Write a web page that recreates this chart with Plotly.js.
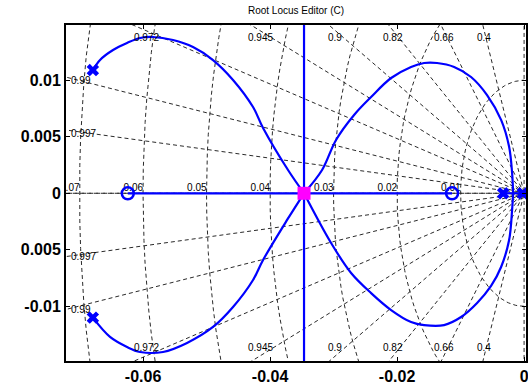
<!DOCTYPE html>
<html><head><meta charset="utf-8">
<script src="https://cdn.plot.ly/plotly-3.0.1.min.js"></script>
<style>html,body{margin:0;padding:0;background:#fff}</style>
</head><body><div id="chart" style="width:528px;height:389px"></div>
<script>
// ---- axes ----
const xTickVals = [-0.06, -0.04, -0.02, 0];
const xTickText = ['-0.06', '-0.04', '-0.02', '0'];
const yTickVals = [-0.01, -0.005, 0, 0.005, 0.01];
const yTickText = ['-0.01', '0.005', '0', '0.005', '0.01'];
const xRange = [-0.07213, 0.0003];
const yRange = [-0.01484, 0.01489];

// ---- s-plane grid values ----
const dampingRatios = [0.4, 0.66, 0.82, 0.9, 0.945, 0.972, 0.99, 0.997];
const dampingLabels = ['0.4', '0.66', '0.82', '0.9', '0.945', '0.972', '0.99', '0.997'];
const naturalFreqs = [0.01, 0.02, 0.03, 0.04, 0.05, 0.06, 0.07];
const freqLabels = ['0.01', '0.02', '0.03', '0.04', '0.05', '0.06', '0.07'];

// ---- open-loop poles / zeros, closed-loop pole ----
const poleRe = [-0.0679, -0.0679, -0.0033, -0.0002];
const poleIm = [0.0109, -0.0110, 0, 0];
const zeroRe = [-0.0624, -0.01134];
const zeroIm = [0, 0];
const clPoleRe = [-0.03465];
const clPoleIm = [0];

// ---- locus branches ----
const upperLeftRe = [-0.06787, -0.06677, -0.06472, -0.06252, -0.06047, -0.05843, -0.05528, -0.05213, -0.04898, -0.04583, -0.04268, -0.04110, -0.03717, -0.03465];
const upperLeftIm = [0.01091, 0.01180, 0.01268, 0.01330, 0.01374, 0.01383, 0.01356, 0.01294, 0.01179, 0.01003, 0.00763, 0.00578, 0.00206, 0];
const lowerLeftRe = [-0.06787, -0.06520, -0.06252, -0.06047, -0.05685, -0.05307, -0.04898, -0.04583, -0.04268, -0.04110, -0.03732, -0.03465];
const lowerLeftIm = [-0.01103, -0.01271, -0.01360, -0.01404, -0.01404, -0.01324, -0.01183, -0.01006, -0.00767, -0.00590, -0.00236, 0];
const upperRightRe = [-0.03465, -0.03181, -0.02961, -0.02677, -0.02409, -0.02094, -0.01780, -0.01575, -0.01370, -0.01102, -0.00835, -0.00583, -0.00362, -0.00236, -0.00189, -0.00173];
const upperRightIm = [0, 0.00206, 0.00472, 0.00693, 0.00852, 0.01020, 0.01118, 0.01153, 0.01153, 0.01118, 0.01029, 0.00869, 0.00649, 0.00411, 0.00180, 0];
const lowerRightRe = [-0.03465, -0.03039, -0.02724, -0.02409, -0.02094, -0.01780, -0.01575, -0.01260, -0.00992, -0.00740, -0.00520, -0.00362, -0.00236, -0.00189, -0.00173];
const lowerRightIm = [0, -0.00440, -0.00705, -0.00883, -0.01033, -0.01139, -0.01166, -0.01166, -0.01095, -0.00971, -0.00820, -0.00652, -0.00414, -0.00148, 0];
const asymptoteRe = [-0.03465, -0.03465];
const asymptoteIm = [-0.02, 0.02];
const realSegARe = [-0.0624, -0.01134];
const realSegBRe = [-0.0033, 0.001];

const BLUE = '#0000ff';
const GRID = { color: '#2a2a2a', width: 1, dash: '4px,3px' };
const traces = [];
const annotations = [];

// damping rays (incl. real and imaginary axes)
[0, 1].concat(dampingRatios).forEach(z => {
  const s = Math.sqrt(1 - z * z), R = 0.2;
  traces.push({ x: [-z * R, 0, -z * R], y: [s * R, 0, -s * R], mode: 'lines', line: GRID, hoverinfo: 'skip' });
});
// natural frequency semicircles
naturalFreqs.forEach(w => {
  const xs = [], ys = [];
  for (let i = 0; i <= 90; i++) {
    const t = -Math.PI / 2 + Math.PI * i / 90;
    xs.push(-w * Math.cos(t)); ys.push(w * Math.sin(t));
  }
  traces.push({ x: xs, y: ys, mode: 'lines', line: GRID, hoverinfo: 'skip' });
});
// frequency labels on real axis (clipped by plot area)
traces.push({
  x: naturalFreqs.map(w => -w), y: naturalFreqs.map(() => 0), mode: 'text',
  text: freqLabels, textposition: 'top left', cliponaxis: true,
  textfont: { family: 'Liberation Sans, Arial', size: 10, color: '#000' }, hoverinfo: 'skip'
});
// damping labels
const lblFont = { family: 'Liberation Sans, Arial', size: 10, color: '#000' };
const dy = 0.0005;
dampingRatios.forEach((z, i) => {
  const tn = Math.sqrt(1 - z * z) / z;
  const xc = -(yRange[1] - dy) / tn;
  if (xc >= xRange[0]) {
    annotations.push({ x: xc, y: yRange[1], xref: 'x', yref: 'y', text: dampingLabels[i], showarrow: false,
      xanchor: 'center', yanchor: 'top', yshift: -5, font: lblFont });
    annotations.push({ x: xc, y: yRange[0], xref: 'x', yref: 'y', text: dampingLabels[i], showarrow: false,
      xanchor: 'center', yanchor: 'bottom', yshift: 6, font: lblFont });
  } else {
    const yc = -xRange[0] * tn;
    annotations.push({ x: xRange[0], y: yc, xref: 'x', yref: 'y', text: dampingLabels[i], showarrow: false,
      xanchor: 'left', yanchor: 'middle', xshift: 3, yshift: -3, font: lblFont });
    annotations.push({ x: xRange[0], y: -yc, xref: 'x', yref: 'y', text: dampingLabels[i], showarrow: false,
      xanchor: 'left', yanchor: 'middle', xshift: 3, yshift: 0, font: lblFont });
  }
});

// locus
const LOC = { color: BLUE, width: 2.2, shape: 'spline', smoothing: 1 };
[[upperLeftRe, upperLeftIm], [lowerLeftRe, lowerLeftIm], [upperRightRe, upperRightIm], [lowerRightRe, lowerRightIm],
 [asymptoteRe, asymptoteIm], [realSegARe, [0, 0]], [realSegBRe, [0, 0]]].forEach(([xs, ys]) => {
  traces.push({ x: xs, y: ys, mode: 'lines', line: LOC, hoverinfo: 'skip' });
});
// markers
traces.push({ x: poleRe, y: poleIm, mode: 'markers', marker: { symbol: 'x', size: 11, color: BLUE, line: { width: 0 } }, hoverinfo: 'skip' });
traces.push({ x: zeroRe, y: zeroIm, mode: 'markers', marker: { symbol: 'circle-open', size: 12, color: BLUE, line: { width: 2.5, color: BLUE } }, hoverinfo: 'skip' });
traces.push({ x: clPoleRe, y: clPoleIm, mode: 'markers', marker: { symbol: 'square', size: 13, color: '#ff00ff', line: { width: 0 } }, hoverinfo: 'skip' });

const tickFont = { family: 'Liberation Sans, Arial', size: 16, weight: 'bold', color: '#000' };
const axisCommon = {
  ticks: 'inside', ticklen: 4, tickwidth: 1, tickcolor: '#000', tickfont: tickFont,
  showline: true, linecolor: '#000', linewidth: 2, mirror: 'allticks',
  showgrid: false, zeroline: false, fixedrange: true, ticklabeloverflow: 'allow'
};
const layout = {
  width: 528, height: 389,
  margin: { l: 66, r: 2, t: 25, b: 28 },
  paper_bgcolor: '#fff', plot_bgcolor: '#fff',
  showlegend: false,
  annotations: annotations,
  title: { text: 'Root Locus Editor (C)', font: { family: 'Liberation Sans, Arial', size: 10, color: '#000' },
           x: 0.5, xref: 'paper', xanchor: 'center', y: 1 - 10 / 389, yref: 'container', yanchor: 'middle' },
  xaxis: Object.assign({ range: xRange, tickvals: xTickVals, ticktext: xTickText }, axisCommon),
  yaxis: Object.assign({ range: yRange, tickvals: yTickVals, ticktext: yTickText }, axisCommon)
};
Plotly.newPlot('chart', traces, layout, { staticPlot: true, displayModeBar: false });
</script></body></html>
